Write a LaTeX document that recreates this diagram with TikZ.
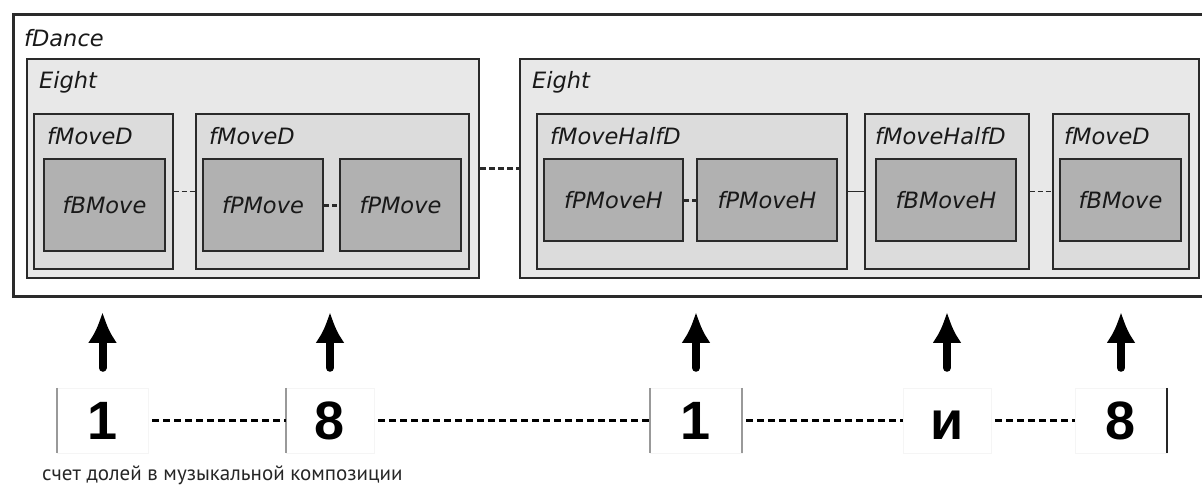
\documentclass[tikz,border=0pt]{standalone}
\usepackage{fontspec}
\setmainfont{DejaVu Sans}
\newfontfamily\numfont{Liberation Sans}
\newfontfamily\capfont{PT Sans}
\usetikzlibrary{arrows.meta,positioning,calc}
\definecolor{eightgray}{HTML}{E8E8E8}
\definecolor{movegray}{HTML}{DCDCDC}
\definecolor{elemgray}{HTML}{B1B1B1}
\definecolor{edge}{HTML}{2A2A2A}
\tikzset{
frame/.style = {draw=edge, fill=white, rectangle, anchor=north west, inner sep=0pt, line width=2.5pt},
eight/.style = {draw=edge, fill=eightgray, rectangle, anchor=north west, inner sep=0pt, line width=2pt},
move/.style  = {draw=edge, fill=movegray, rectangle, anchor=north west, inner sep=0pt, line width=1.5pt},
elem/.style  = {draw=edge, fill=elemgray, rectangle, anchor=north west, inner sep=0pt, line width=2pt,
                font=\fontsize{22.5}{26}\selectfont\itshape, text=black!90},
lbl/.style   = {anchor=base west, inner sep=0pt, font=\fontsize{22.5}{26}\selectfont\itshape, text=black!90},
cnt/.style   = {draw=black!4, rectangle, minimum height=65pt, inner sep=0pt, text height=38pt, text depth=0pt,
                font=\numfont\bfseries\fontsize{54}{60}\selectfont},
bar/.style   = {draw=black!40, line width=1.5pt},
beat/.style  = {-{Latex[length=31pt,width=29pt]}, line width=8pt, line cap=round},
tick/.style  = {line width=3pt, dash pattern=on 7pt off 4pt, shorten <=4pt},
link/.style  = {draw=edge, line width=1.5pt}
}

\begin{document}
\begin{tikzpicture}[x=1pt, y=1pt]
\useasboundingbox (0,0) rectangle (1202,-488);
% dance frame
\node[frame, minimum width=1198pt, minimum height=282pt] (dance) at (12,-13) {};
\node[lbl] at ($(dance.north west)+(12,-33)$) {fDance};
% two eights
\node[eight, minimum width=452pt, minimum height=219pt] (eight1) at (26,-58) {};
\node[eight, minimum width=679pt, minimum height=219pt] (eight2) at (519,-58) {};
\node[lbl] at ($(eight1.north west)+(13,-30)$) {Eight};
\node[lbl] at ($(eight2.north west)+(13,-30)$) {Eight};
% moves of the first eight
\node[move, minimum width=139pt, minimum height=155pt] (mv1) at (33,-113) {};
\node[move, minimum width=273pt, minimum height=155pt] (mv2) at (195,-113) {};
\node[lbl] at ($(mv1.north west)+(14,-31)$) {fMoveD};
\node[lbl] at ($(mv2.north west)+(14,-31)$) {fMoveD};
\node[elem, minimum width=121pt, minimum height=92pt] (bm1) at (43,-158) {fBMove};
\node[elem, minimum width=120pt, minimum height=92pt] (pm1) at (202,-158) {fPMove};
\node[elem, minimum width=121pt, minimum height=92pt] (pm2) at (339,-158) {fPMove};
% moves of the second eight
\node[move, minimum width=310pt, minimum height=155pt] (mv3) at (536,-113) {};
\node[move, minimum width=164pt, minimum height=155pt] (mv4) at (864,-113) {};
\node[move, minimum width=136pt, minimum height=155pt] (mv5) at (1052,-113) {};
\node[lbl] at ($(mv3.north west)+(14,-31)$) {fMoveHalfD};
\node[lbl] at ($(mv4.north west)+(11,-31)$) {fMoveHalfD};
\node[lbl] at ($(mv5.north west)+(12,-31)$) {fMoveD};
\node[elem, minimum width=139pt, minimum height=82pt] (ph1) at (543,-158) {fPMoveH};
\node[elem, minimum width=140pt, minimum height=82pt] (ph2) at (696,-158) {fPMoveH};
\node[elem, minimum width=140pt, minimum height=82pt] (bh1) at (875,-158) {fBMoveH};
\node[elem, minimum width=121pt, minimum height=82pt] (bm2) at (1059,-158) {fBMove};
% links
\draw[link, line width=3pt, dash pattern=on 6pt off 3pt] (eight1.east) -- (eight2.west);
\draw[link, dash pattern=on 5pt off 3pt] (mv1.east) -- (mv2.west);
\draw[link, line width=3pt, dash pattern=on 5pt off 3pt] (pm1.east) -- (pm2.west);
\draw[link, line width=3pt, dash pattern=on 5pt off 3pt] (ph1.east) -- (ph2.west);
\draw[link] (mv3.east) -- (mv4.west);
\draw[link, dash pattern=on 5pt off 3pt] (mv4.east) -- (mv5.west);
% beat counts
\node[cnt, minimum width=91pt] (c1) at (102.5,-420.5) {1};
\node[cnt, minimum width=88pt] (c2) at (330,-420.5) {8};
\node[cnt, minimum width=92pt] (c3) at (696,-420.5) {1};
\node[cnt, minimum width=88pt] (c4) at (947,-420.5) {и};
\node[cnt, minimum width=92pt] (c5) at (1121,-420.5) {8};
\draw[bar] (c1.north west) -- (c1.south west);
\draw[bar] (c2.north west) -- (c2.south west);
\draw[bar] (c3.north west) -- (c3.south west);
\draw[bar] (c3.north east) -- (c3.south east);
\draw[bar, draw=black!85, line width=2pt] (c5.north east) -- (c5.south east);
\draw[tick] (c1.east) -- (c2.west);
\draw[tick] (c2.east) -- (c3.west);
\draw[tick] (c3.east) -- (c4.west);
\draw[tick] (c4.east) -- (c5.west);
% arrows up to the moves
\foreach \c in {c1,c2,c3,c4,c5}
  \draw[beat] ([yshift=20pt]\c.north) -- ([yshift=76pt]\c.north);
\node[anchor=base west, inner sep=0pt, font=\capfont\fontsize{21}{24}\selectfont, text=black!85] (caption) at (42,-480)
  {счет долей в музыкальной композиции};
\end{tikzpicture}
\end{document}
